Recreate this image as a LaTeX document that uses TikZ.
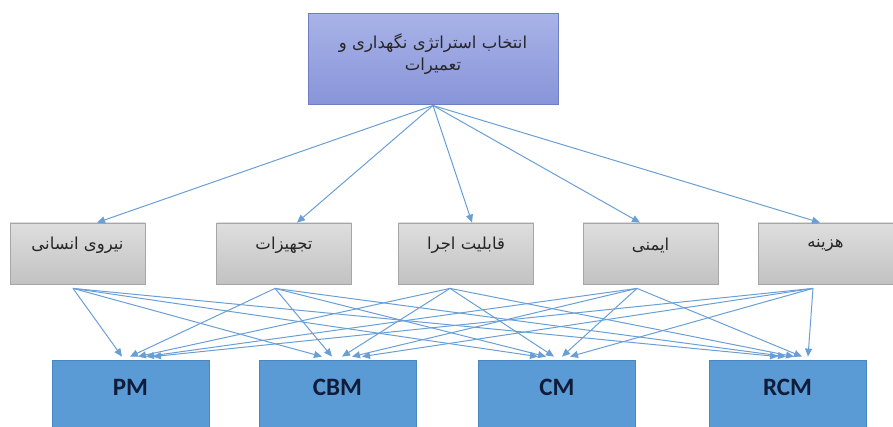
\documentclass[tikz,border=0pt]{standalone}
\usepackage{fontspec}
\setmainfont{Carlito}
\newfontfamily\arabicfont[Script=Arabic]{DejaVu Sans}
\TeXXeTstate=1
\usetikzlibrary{arrows.meta}

\definecolor{goalTop}{HTML}{A9B3E8}
\definecolor{goalBot}{HTML}{8794D8}
\definecolor{goalEdge}{HTML}{6E7EC4}
\definecolor{critTop}{HTML}{DEDEDE}
\definecolor{critBot}{HTML}{C2C2C2}
\definecolor{critEdge}{HTML}{A6A6A6}
\definecolor{altFill}{HTML}{5B9BD5}
\definecolor{altEdge}{HTML}{4A86C0}
\definecolor{altText}{HTML}{0F1C3A}
\definecolor{linkCol}{HTML}{6A9FD6}

\begin{document}
\begin{tikzpicture}[x=1pt,y=-1pt,
  goalbox/.style={draw=goalEdge,line width=1pt,top color=goalTop,bottom color=goalBot,
    minimum width=250pt,minimum height=91pt,inner sep=0pt},
  goaltext/.style={font=\arabicfont\fontsize{16.5}{22}\selectfont,align=center,text=black!85},
  critbox/.style={draw=critEdge,line width=0.8pt,top color=critTop,bottom color=critBot,
    minimum width=135pt,minimum height=61pt,inner sep=0pt},
  crittext/.style={font=\arabicfont\fontsize{16.5}{18}\selectfont,text=black!85},
  altbox/.style={draw=altEdge,line width=0.8pt,fill=altFill,
    minimum width=157pt,minimum height=72pt,inner sep=0pt},
  alttext/.style={font=\bfseries\fontsize{25}{27}\selectfont,text=altText},
  link/.style={draw=linkCol,line width=1pt,-{Triangle[length=8pt,width=7pt]}},
]
\useasboundingbox (0,0) rectangle (893,427);

% goal
\node[goalbox,label={[goaltext,yshift=5.5]center:{\beginR انتخاب استراتژی نگهداری و\endR\\\beginR تعمیرات\endR}}] (goal) at (433,59.5) {};

% criteria
\node[critbox,label={[crittext,yshift=8.5]center:{\beginR نیروی انسانی\endR}}] (g1) at (77.5,253.5) {};
\node[critbox,label={[crittext,yshift=8.5]center:{\beginR تجهیزات\endR}}] (g2) at (284,253.5) {};
\node[critbox,label={[crittext,yshift=8.5]center:{\beginR قابلیت اجرا\endR}}] (g3) at (466,253.5) {};
\node[critbox,label={[crittext,yshift=8.5]center:{\beginR ایمنی\endR}}] (g4) at (650.5,253.5) {};
\node[critbox,label={[crittext,yshift=8.5]center:{\beginR هزینه\endR}}] (g5) at (825.5,253.5) {};

% alternatives
\node[altbox,label={[alttext,yshift=9]center:PM}] (pm) at (130.5,396) {};
\node[altbox,label={[alttext,yshift=9]center:CBM}] (cbm) at (337.5,396) {};
\node[altbox,label={[alttext,yshift=9]center:CM}] (cm) at (557,396) {};
\node[altbox,label={[alttext,yshift=9]center:RCM}] (rcm) at (787.5,396) {};

% goal -> criteria
\draw[link] (goal.south) -- ([xshift=19.5pt]g1.north);
\draw[link] (goal.south) -- ([xshift=13pt]g2.north);
\draw[link] (goal.south) -- ([xshift=6pt]g3.north);
\draw[link] (goal.south) -- ([xshift=-10.5pt]g4.north);
\draw[link] (goal.south) -- ([xshift=-5.5pt]g5.north);

% criteria -> alternatives
\draw[link] ([xshift=-4.5pt,yshift=-4pt]g1.south) -- ([xshift=-8.5pt,yshift=3pt]pm.north);
\draw[link] ([xshift=-4.5pt,yshift=-4pt]g1.south) -- ([xshift=-15.5pt,yshift=3pt]cbm.north);
\draw[link] ([xshift=-4.5pt,yshift=-4pt]g1.south) -- ([xshift=-19pt,yshift=3pt]cm.north);
\draw[link] ([xshift=-4.5pt,yshift=-4pt]g1.south) -- ([xshift=-9.5pt,yshift=3pt]rcm.north);

\draw[link] ([xshift=-9pt,yshift=-4pt]g2.south) -- ([xshift=-0.5pt,yshift=3pt]pm.north);
\draw[link] ([xshift=-9pt,yshift=-4pt]g2.south) -- ([xshift=-5.5pt,yshift=3pt]cbm.north);
\draw[link] ([xshift=-9pt,yshift=-4pt]g2.south) -- ([xshift=-11pt,yshift=3pt]cm.north);
\draw[link] ([xshift=-9pt,yshift=-4pt]g2.south) -- ([xshift=-1.5pt,yshift=3pt]rcm.north);

\draw[link] ([xshift=-16pt,yshift=-4pt]g3.south) -- ([xshift=7.5pt,yshift=3pt]pm.north);
\draw[link] ([xshift=-16pt,yshift=-4pt]g3.south) -- ([xshift=4.5pt,yshift=3pt]cbm.north);
\draw[link] ([xshift=-16pt,yshift=-4pt]g3.south) -- ([xshift=-3pt,yshift=3pt]cm.north);
\draw[link] ([xshift=-16pt,yshift=-4pt]g3.south) -- ([xshift=6.5pt,yshift=3pt]rcm.north);

\draw[link] ([xshift=-13.5pt,yshift=-4pt]g4.south) -- ([xshift=15.5pt,yshift=3pt]pm.north);
\draw[link] ([xshift=-13.5pt,yshift=-4pt]g4.south) -- ([xshift=14.5pt,yshift=3pt]cbm.north);
\draw[link] ([xshift=-13.5pt,yshift=-4pt]g4.south) -- ([xshift=5pt,yshift=3pt]cm.north);
\draw[link] ([xshift=-13.5pt,yshift=-4pt]g4.south) -- ([xshift=14.5pt,yshift=3pt]rcm.north);

\draw[link] ([xshift=-12.5pt,yshift=-4pt]g5.south) -- ([xshift=22.5pt,yshift=3pt]pm.north);
\draw[link] ([xshift=-12.5pt,yshift=-4pt]g5.south) -- ([xshift=24.5pt,yshift=3pt]cbm.north);
\draw[link] ([xshift=-12.5pt,yshift=-4pt]g5.south) -- ([xshift=13pt,yshift=3pt]cm.north);
\draw[link] ([xshift=-12.5pt,yshift=-4pt]g5.south) -- ([xshift=20.5pt,yshift=3pt]rcm.north);
\end{tikzpicture}
\end{document}
